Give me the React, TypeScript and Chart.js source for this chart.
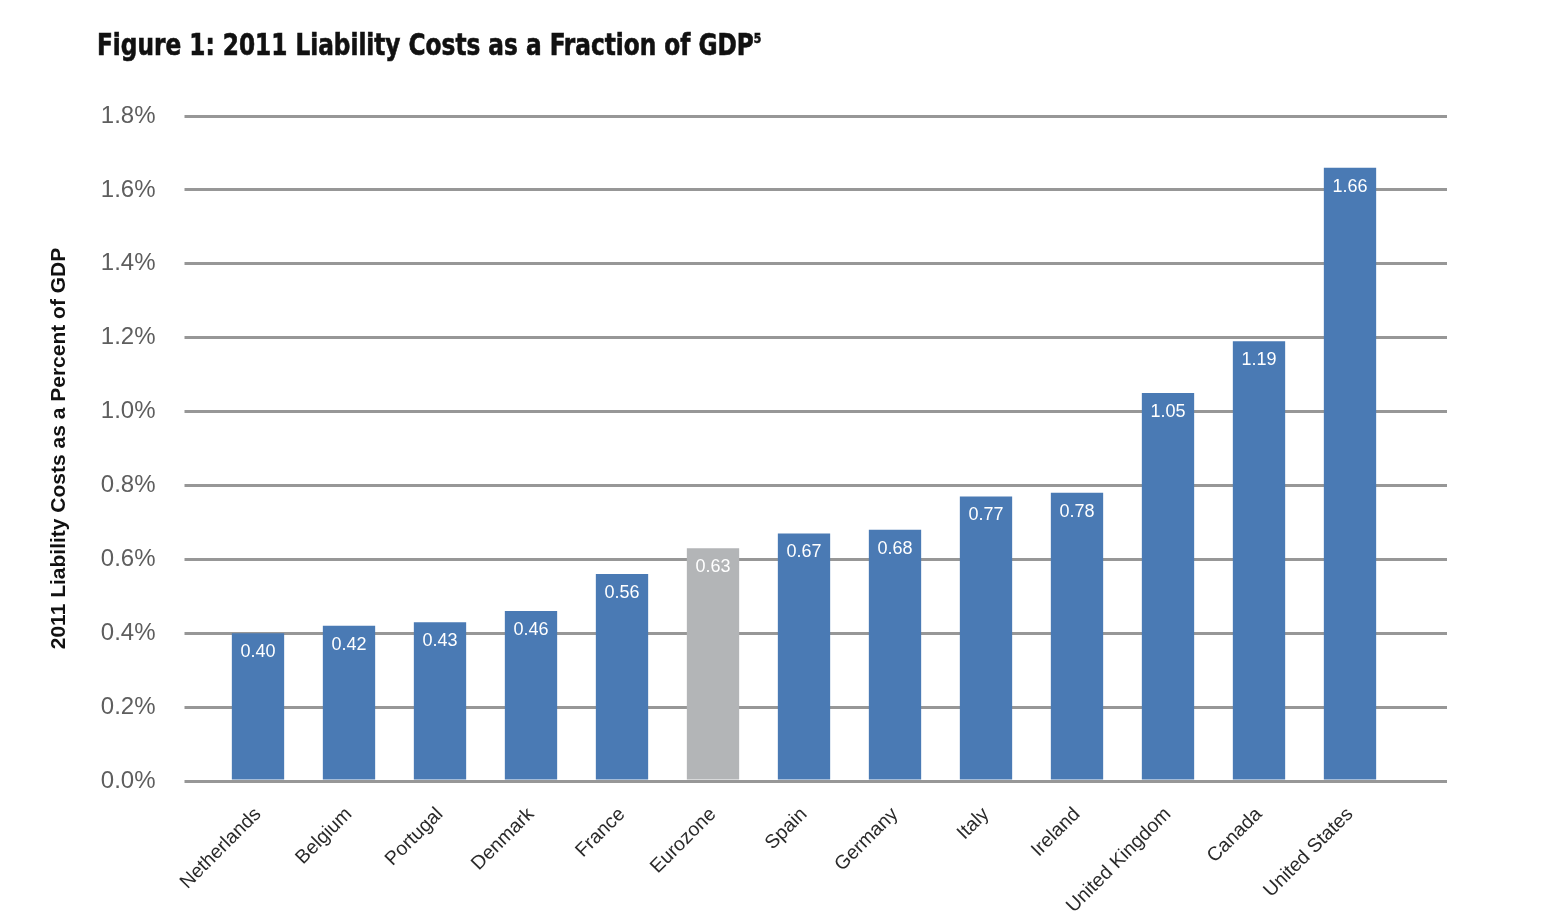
import React, { useEffect, useRef } from "react";
import { Chart, registerables } from "chart.js";

Chart.register(...registerables);

const categories = [
  "Netherlands", "Belgium", "Portugal", "Denmark", "France", "Eurozone",
  "Spain", "Germany", "Italy", "Ireland", "United Kingdom", "Canada", "United States",
];
const values = [0.4, 0.42, 0.43, 0.46, 0.56, 0.63, 0.67, 0.68, 0.77, 0.78, 1.05, 1.19, 1.66];
const highlighted = ["Eurozone"];
const yTicks = [0, 0.2, 0.4, 0.6, 0.8, 1.0, 1.2, 1.4, 1.6, 1.8];

const BLUE = "#4a7ab4";
const GREY = "#b3b5b7";
const GRID = "#979797";

const valueLabels = {
  id: "valueLabels",
  afterDatasetsDraw(chart: any) {
    const ctx = chart.ctx;
    const meta = chart.getDatasetMeta(0);
    ctx.save();
    ctx.fillStyle = "#ffffff";
    ctx.font = "18px 'Liberation Sans', Arial, sans-serif";
    ctx.textAlign = "center";
    ctx.textBaseline = "middle";
    meta.data.forEach((bar: any, i: number) => {
      ctx.fillText(values[i].toFixed(2), bar.x, bar.y + 19);
    });
    ctx.restore();
  },
};

export default function App() {
  const ref = useRef<HTMLCanvasElement | null>(null);
  useEffect(() => {
    document.body.style.margin = "0";
    const canvas = ref.current!;
    const chart = new Chart(canvas, {
      type: "bar",
      data: {
        labels: categories,
        datasets: [
          {
            data: values,
            backgroundColor: categories.map((c) => (highlighted.includes(c) ? GREY : BLUE)),
            borderWidth: 0,
            categoryPercentage: 1,
            barPercentage: 0.575,
          },
        ],
      },
      options: {
        animation: false,
        responsive: false,
        maintainAspectRatio: false,
        layout: { padding: { left: 0, right: 94, top: 116, bottom: 0 } },
        plugins: {
          legend: { display: false },
          tooltip: { enabled: false },
          title: { display: false },
        },
        scales: {
          x: {
            type: "category",
            offset: true,
            grid: { display: false, drawTicks: false },
            border: { display: false },
            ticks: {
              autoSkip: false,
              maxRotation: 45,
              minRotation: 45,
              padding: 22,
              color: "#2a2a2a",
              font: { family: "'Liberation Sans', Arial, sans-serif", size: 19.5 },
            },
            afterFit: (s: any) => {
              s.height = 137;
            },
          },
          y: {
            position: "left",
            min: 0,
            max: 1.8,
            afterBuildTicks: (s: any) => {
              s.ticks = yTicks.map((v) => ({ value: v }));
            },
            grid: {
              color: GRID,
              lineWidth: 3,
              drawTicks: true,
              tickLength: 28,
            },
            border: { display: false },
            ticks: {
              padding: 29,
              color: "#5e5e5e",
              font: { family: "'Liberation Sans', Arial, sans-serif", size: 24 },
              callback: (v: any) => Number(v).toFixed(1) + "%",
            },
            title: {
              display: true,
              text: "2011 Liability Costs as a Percent of GDP",
              color: "#111111",
              font: { family: "'Liberation Sans', Arial, sans-serif", size: 21, weight: "bold" },
              padding: { top: 47, bottom: 0 },
            },
            afterFit: (s: any) => {
              s.width = 212.5;
            },
          },
          y2: {
            position: "right",
            min: 0,
            max: 1.8,
            afterBuildTicks: (s: any) => {
              s.ticks = yTicks.map((v) => ({ value: v }));
            },
            grid: {
              color: GRID,
              lineWidth: 3,
              drawTicks: true,
              tickLength: 51.5,
            },
            border: { display: false },
            ticks: { display: false },
            afterFit: (s: any) => {
              s.width = 51.5;
            },
          },
        },
      } as any,
      plugins: [valueLabels],
    });
    return () => chart.destroy();
  }, []);

  return (
    <div style={{ position: "relative", width: 1541, height: 918, background: "#fff" }}>
      <div
        style={{
          position: "absolute",
          left: 97,
          top: 27,
          fontFamily: "'DejaVu Sans Condensed', 'Liberation Sans', sans-serif",
          fontWeight: "bold",
          fontSize: 30,
          color: "#111",
          whiteSpace: "nowrap",
          transform: "scaleX(0.86)",
          transformOrigin: "left top",
          WebkitTextStroke: "0.6px #111",
        }}
      >
        Figure 1: 2011 Liability Costs as a Fraction of GDP
        <sup style={{ fontSize: 14, verticalAlign: "top", position: "relative", top: 3 }}>5</sup>
      </div>
      <canvas ref={ref} width={1541} height={918} style={{ display: "block" }} />
    </div>
  );
}
